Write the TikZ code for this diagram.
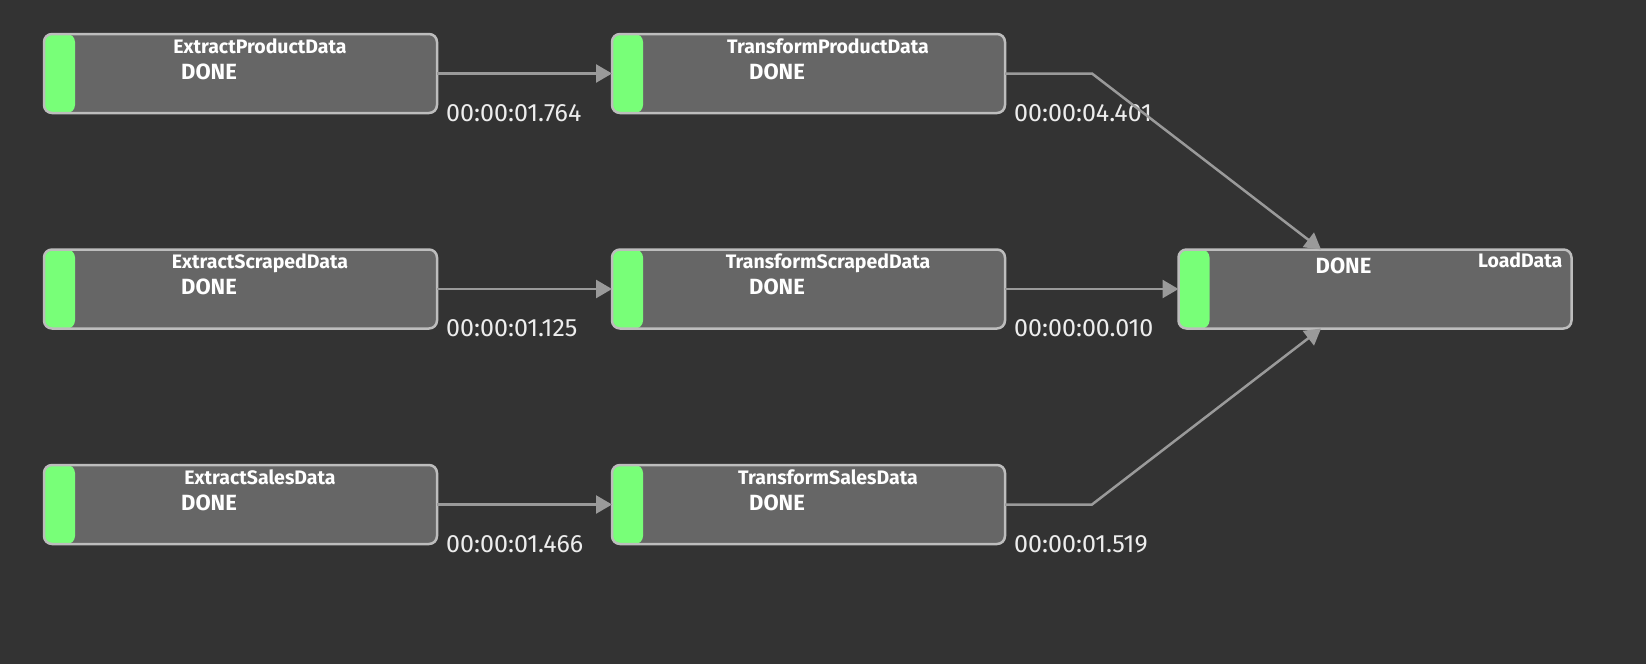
\documentclass[tikz,border=0pt]{standalone}
\usepackage{fontspec}
\setmainfont{Fira Sans}
\newfontfamily\timefont{Fira Sans}
\usetikzlibrary{positioning,arrows.meta}
\definecolor{canvas}{HTML}{333333}
\definecolor{taskfill}{HTML}{666666}
\definecolor{taskborder}{HTML}{BDBDBD}
\definecolor{donegreen}{HTML}{78FF78}
\definecolor{flowgray}{HTML}{9A9A9A}
\definecolor{timetext}{HTML}{EDEDED}
\begin{document}
\begin{tikzpicture}[x=1pt,y=-1pt,
    task/.style={draw=taskborder,line width=2.5pt,fill=taskfill,rounded corners=8pt,
      minimum width=393pt,minimum height=79pt,inner sep=0pt,outer sep=0pt,
      path picture={\fill[donegreen] (path picture bounding box.north west)
        rectangle ([xshift=31pt]path picture bounding box.south west);}},
    title/.style={text=white,font=\bfseries\fontsize{19.5}{22}\selectfont,anchor=base,inner sep=0pt},
    status/.style={text=white,font=\bfseries\fontsize{22}{26}\selectfont,anchor=base west,inner sep=0pt},
    elapsed/.style={text=timetext,font=\timefont\fontsize{25}{29}\selectfont,anchor=west,inner sep=0pt},
    flow/.style={draw=flowgray,line width=2.5pt,-{Triangle[length=16pt,width=18pt]}}
  ]
  \fill[canvas] (0,0) rectangle (1646,664);
  \useasboundingbox (0,0) rectangle (1646,664);

  % extract column
  \node[task] (extprod) at (240.5,73.5) {};
  \node[task] (extscr) at (240.5,289) {};
  \node[task] (extsal) at (240.5,504.5) {};
  % transform column
  \node[task] (trprod) at (808.5,73.5) {};
  \node[task] (trscr) at (808.5,289) {};
  \node[task] (trsal) at (808.5,504.5) {};
  % load
  \node[task] (load) at (1375,289) {};

  \node[title] (extprodname) at ([xshift=19.5pt,yshift=-19pt]extprod.north) {ExtractProductData};
  \node[title] (extscrname) at ([xshift=19.5pt,yshift=-19pt]extscr.north) {ExtractScrapedData};
  \node[title] (extsalname) at ([xshift=19.5pt,yshift=-19pt]extsal.north) {ExtractSalesData};
  \node[title] (trprodname) at ([xshift=19.5pt,yshift=-19pt]trprod.north) {TransformProductData};
  \node[title] (trscrname) at ([xshift=19.5pt,yshift=-19pt]trscr.north) {TransformScrapedData};
  \node[title] (trsalname) at ([xshift=19.5pt,yshift=-19pt]trsal.north) {TransformSalesData};
  \node[title,anchor=base east] (loadname) at ([xshift=-9pt,yshift=-18pt]load.north east) {LoadData};

  \node[status] (extprodstate) at ([xshift=137pt,yshift=-45pt]extprod.north west) {DONE};
  \node[status] (extscrstate) at ([xshift=137pt,yshift=-45pt]extscr.north west) {DONE};
  \node[status] (extsalstate) at ([xshift=137pt,yshift=-45pt]extsal.north west) {DONE};
  \node[status] (trprodstate) at ([xshift=137pt,yshift=-45pt]trprod.north west) {DONE};
  \node[status] (trscrstate) at ([xshift=137pt,yshift=-45pt]trscr.north west) {DONE};
  \node[status] (trsalstate) at ([xshift=137pt,yshift=-45pt]trsal.north west) {DONE};
  \node[status] (loadstate) at ([xshift=137pt,yshift=-24pt]load.north west) {DONE};

  \node[elapsed] (extprodtime) at ([xshift=9pt]extprod.south east) {00:00:01.764};
  \node[elapsed] (extscrtime) at ([xshift=9pt]extscr.south east) {00:00:01.125};
  \node[elapsed] (extsaltime) at ([xshift=9pt]extsal.south east) {00:00:01.466};
  \node[elapsed] (trprodtime) at ([xshift=9pt]trprod.south east) {00:00:04.401};
  \node[elapsed] (trscrtime) at ([xshift=9pt]trscr.south east) {00:00:00.010};
  \node[elapsed] (trsaltime) at ([xshift=9pt]trsal.south east) {00:00:01.519};

  % connectors
  \coordinate (prodbend) at ([xshift=87pt]trprod.east);
  \coordinate (salbend) at ([xshift=87pt]trsal.east);
  \draw[flow] (extprod.east) -- (trprod.west);
  \draw[flow] (extscr.east) -- (trscr.west);
  \draw[flow] (extsal.east) -- (trsal.west);
  \draw[flow] (trprod.east) -- (prodbend) -- ([xshift=-54pt]load.north);
  \draw[flow] (trscr.east) -- (load.west);
  \draw[flow] (trsal.east) -- (salbend) -- ([xshift=-54pt]load.south);
\end{tikzpicture}
\end{document}
